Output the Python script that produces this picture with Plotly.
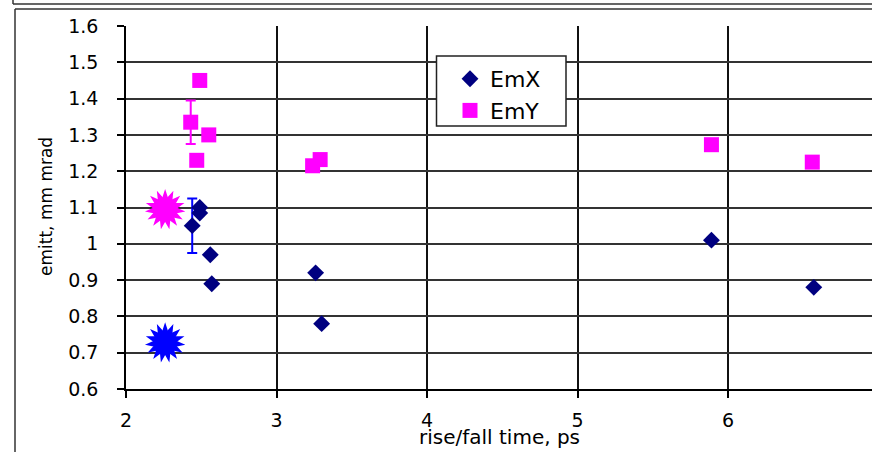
import plotly.graph_objects as go

# ---- data ----
emx_x = [2.49, 2.49, 2.44, 2.56, 2.57, 3.26, 3.30, 5.89, 6.57]
emx_y = [1.10, 1.085, 1.05, 0.97, 0.89, 0.92, 0.78, 1.01, 0.88]
emx_err = [None, None, 0.075, None, None, None, None, None, None]

emy_x = [2.49, 2.43, 2.55, 2.47, 3.24, 3.29, 5.89, 6.56]
emy_y = [1.45, 1.335, 1.30, 1.23, 1.215, 1.232, 1.273, 1.225]
emy_err = [None, 0.06, None, None, None, None, None, None]

star_x = [2.26, 2.26]
star_y = [1.095, 0.728]
star_colors = ["#FF00FF", "#0000FF"]

x_ticks = [2, 3, 4, 5, 6]
y_ticks = [0.6, 0.7, 0.8, 0.9, 1.0, 1.1, 1.2, 1.3, 1.4, 1.5, 1.6]
y_tick_text = ["0.6", "0.7", "0.8", "0.9", "1", "1.1", "1.2", "1.3", "1.4", "1.5", "1.6"]

FONT = "DejaVu Sans"
W, H = 872, 452
L, R, T, B = 126, 872, 26, 389


def px(x):
    return (x - L) / (R - L)


def py(y):
    return (B - y) / (B - T)


fig = go.Figure()

# star bursts (three rotated stars overlaid)
for ang in (0, 24, 48):
    fig.add_trace(go.Scatter(
        x=star_x, y=star_y, mode="markers", showlegend=False, hoverinfo="skip",
        marker=dict(symbol="star", size=29, angle=ang, color=star_colors,
                    line=dict(width=0)),
    ))

fig.add_trace(go.Scatter(
    x=emx_x, y=emx_y, mode="markers", name="EmX",
    marker=dict(symbol="diamond", size=13, color="#000080", line=dict(width=0)),
    error_y=dict(type="data", array=emx_err, visible=True, color="#0000FF",
                 thickness=2, width=5),
))
fig.add_trace(go.Scatter(
    x=emy_x, y=emy_y, mode="markers", name="EmY",
    marker=dict(symbol="square", size=15, color="#FF00FF", line=dict(width=0)),
    error_y=dict(type="data", array=emy_err, visible=True, color="#FF00FF",
                 thickness=2, width=5),
))

shapes = [
    # outer frames
    dict(type="line", xref="paper", yref="paper", x0=px(13), x1=px(872),
         y0=py(4), y1=py(4), line=dict(color="#333333", width=1.5)),
    dict(type="line", xref="paper", yref="paper", x0=px(13), x1=px(13),
         y0=py(0), y1=py(4), line=dict(color="#333333", width=1.5)),
    dict(type="line", xref="paper", yref="paper", x0=px(15), x1=px(872),
         y0=py(9), y1=py(9), line=dict(color="#333333", width=1.5)),
    dict(type="line", xref="paper", yref="paper", x0=px(15), x1=px(15),
         y0=py(9), y1=py(452), line=dict(color="#333333", width=1.5)),
    # legend box
    dict(type="rect", xref="paper", yref="paper", layer="above",
         x0=px(436.5), x1=px(566), y0=py(56), y1=py(126),
         fillcolor="white", line=dict(color="#222222", width=1.5)),
]

annotations = [
    dict(text="emitt, mm mrad", xref="paper", yref="paper", x=px(46), y=py(207),
         xanchor="center", yanchor="middle", textangle=-90, showarrow=False,
         font=dict(family=FONT, size=17, color="black")),
    dict(text="rise/fall time, ps", xref="paper", yref="paper", x=px(499.5), y=py(437),
         xanchor="center", yanchor="middle", showarrow=False,
         font=dict(family=FONT, size=20, color="black")),
]

fig.update_layout(
    width=W, height=H,
    margin=dict(l=L, r=W - R, t=T, b=H - B, pad=0),
    paper_bgcolor="white", plot_bgcolor="white",
    font=dict(family=FONT, size=19, color="black"),
    shapes=shapes, annotations=annotations,
    showlegend=True,
    legend=dict(x=px(450), y=py(58), xanchor="left", yanchor="top",
                bgcolor="rgba(0,0,0,0)", borderwidth=0,
                font=dict(family=FONT, size=22, color="black"),
                itemsizing="trace", tracegroupgap=0),
)

fig.update_xaxes(
    range=[2, 2 + (R - L) / 150.5], tickmode="array", tickvals=x_ticks,
    ticktext=[str(v) for v in x_ticks],
    showgrid=True, gridcolor="#111111", gridwidth=1.5,
    showline=True, linecolor="black", linewidth=1.5,
    ticks="outside", ticklen=7, tickwidth=1.5, tickcolor="black",
    ticklabelstandoff=6, zeroline=False,
    tickfont=dict(family=FONT, size=19, color="black"),
)
fig.update_yaxes(
    range=[0.6, 1.6], tickmode="array", tickvals=y_ticks, ticktext=y_tick_text,
    showgrid=True, gridcolor="#333333", gridwidth=1.5,
    showline=True, linecolor="black", linewidth=1.5,
    ticks="outside", ticklen=7, tickwidth=1.5, tickcolor="black",
    ticklabelstandoff=15, zeroline=False,
    tickfont=dict(family=FONT, size=19, color="black"),
)

fig.write_html(
    "out.html",
    config={"displayModeBar": False},
    post_script=(
        "document.documentElement.style.overflow='hidden';"
        "document.body.style.margin='0';document.body.style.overflow='hidden';"
    ),
)
